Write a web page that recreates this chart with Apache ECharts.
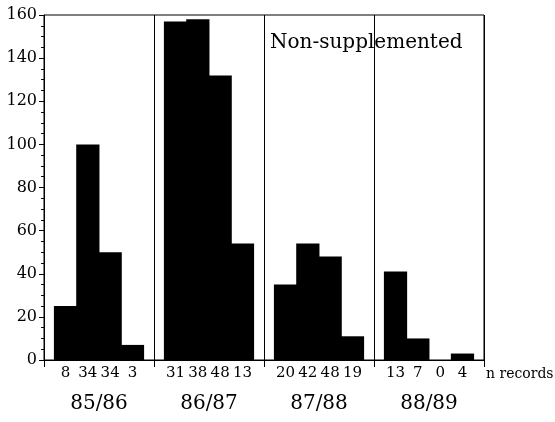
<!DOCTYPE html>
<html lang="en">
<head>
    <meta charset="UTF-8">
    <title></title>
    <script src="https://cdn.jsdelivr.net/npm/echarts@6/dist/echarts.min.js"></script>
</head>
<body style="margin:0">
<div id="box1" style="width: 555px;height: 422px"></div>
<script>
    // seasons on the x axis, four bins per season
    var seasons = ['85/86', '86/87', '87/88', '88/89'];
    var values8586 = [25, 100, 50, 7];
    var values8687 = [157, 158, 132, 54];
    var values8788 = [35, 54, 48, 11];
    var values8889 = [41, 10, 0, 3];
    // n records printed under each bar
    var records8586 = [8, 34, 34, 3];
    var records8687 = [31, 38, 48, 13];
    var records8788 = [20, 42, 48, 19];
    var records8889 = [13, 7, 0, 4];
    var yTicks = [0, 20, 40, 60, 80, 100, 120, 140, 160];

    var valuesBySeason = [values8586, values8687, values8788, values8889];
    var recordsBySeason = [records8586, records8687, records8788, records8889];
    var font = 'DejaVu Serif';

    var mychart = echarts.init(document.getElementById("box1"));

    var series = [];
    for (var b = 0; b < 4; b++) {
        (function (b) {
            series.push({
                type: 'bar',
                barGap: '-4%',
                barCategoryGap: '18%',
                itemStyle: {color: '#000', borderWidth: 0},
                data: valuesBySeason.map(function (v) { return v[b]; }),
                label: {
                    show: true,
                    position: 'bottom',
                    distance: 6,
                    color: '#000',
                    fontFamily: font,
                    fontSize: 15,
                    formatter: function (p) {
                        return recordsBySeason[p.dataIndex][b];
                    }
                },
                silent: true
            });
        })(b);
    }

    var option = {
        animation: false,
        grid: {
            left: 44, right: 71, top: 15, bottom: 62,
            show: true, borderColor: '#000', borderWidth: 1
        },
        xAxis: {
            type: 'category',
            data: seasons,
            axisLine: {lineStyle: {color: '#000'}},
            axisTick: {show: true, length: 7, interval: 0, lineStyle: {color: '#000'}},
            splitLine: {show: true, interval: 0, lineStyle: {color: '#000'}},
            axisLabel: {color: '#000', fontFamily: font, fontSize: 20, margin: 34}
        },
        yAxis: {
            type: 'value',
            min: yTicks[0],
            max: yTicks[yTicks.length - 1],
            interval: 20,
            axisLine: {show: true, lineStyle: {color: '#000'}},
            axisTick: {show: true, length: 5, lineStyle: {color: '#000'}},
            minorTick: {show: true, splitNumber: 4, length: 3, lineStyle: {color: '#000'}},
            splitLine: {show: false},
            axisLabel: {color: '#000', fontFamily: font, fontSize: 16, margin: 7}
        },
        graphic: [
            {
                type: 'text', left: 270, top: 33,
                style: {text: 'Non-supplemented', font: '20px "DejaVu Serif"', fill: '#000'}
            },
            {
                type: 'text', left: 486, top: 367,
                style: {text: 'n records', font: '14px "DejaVu Serif"', fill: '#000'}
            }
        ],
        series: series
    };
    mychart.setOption(option);
</script>
</body>
</html>
